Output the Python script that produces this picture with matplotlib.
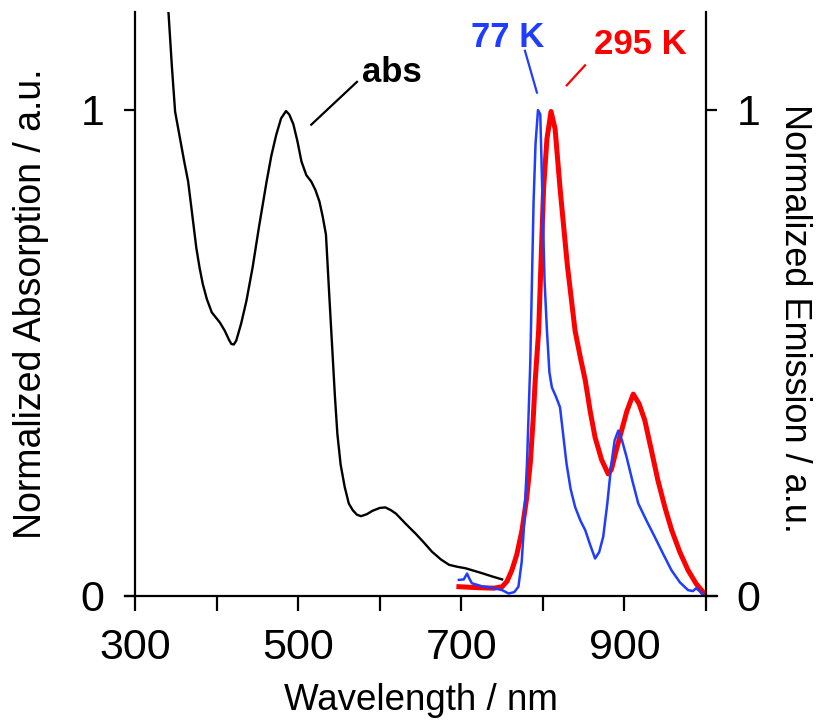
import matplotlib
matplotlib.use("Agg")
import matplotlib.pyplot as plt

plt.rcParams['font.family'] = ['Liberation Sans', 'DejaVu Sans']

# absorption spectrum (black)
abs_x = [335, 341, 345, 349, 355, 360, 365, 369, 375, 379, 383, 388, 394, 404,
         410, 415, 418, 421, 424, 430, 436.5, 444, 452, 461, 467, 473, 479, 485,
         489, 494, 499, 504, 510, 516, 521, 526, 530, 534, 538, 542, 545, 548,
         552, 557, 562, 567, 572, 577, 584, 591, 600, 607, 614, 620, 632, 644,
         654, 664, 675, 685, 695, 705, 715, 725, 738, 750]
abs_y = [1.32, 1.197, 1.09, 0.996, 0.941, 0.895, 0.852, 0.798, 0.716, 0.675,
         0.641, 0.61, 0.583, 0.562, 0.545, 0.527, 0.518, 0.517, 0.525, 0.56,
         0.607, 0.675, 0.76, 0.85, 0.905, 0.948, 0.982, 0.997, 0.99, 0.97,
         0.935, 0.893, 0.865, 0.852, 0.835, 0.811, 0.78, 0.743, 0.62, 0.50,
         0.41, 0.333, 0.27, 0.224, 0.19, 0.176, 0.167, 0.164, 0.168, 0.175,
         0.181, 0.182, 0.176, 0.169, 0.148, 0.128, 0.11, 0.091, 0.075, 0.064,
         0.060, 0.057, 0.052, 0.047, 0.040, 0.034]

# emission at 77 K (blue)
em77_x = [697, 703, 707, 710, 713, 725, 740, 750, 758, 765, 770, 774, 776.5,
          780.5, 784.5, 788.6, 791, 794, 796.8, 799, 802, 805, 808, 811, 816,
          821, 825, 829, 834, 839.5, 846, 852, 858, 864, 869, 874, 879, 884,
          888, 892.5, 897, 902.6, 910, 917, 927, 937, 947, 957.6, 968, 978,
          984, 988, 992, 996, 1000]
em77_y = [0.033, 0.034, 0.046, 0.035, 0.026, 0.02, 0.016, 0.012, 0.005, 0.008,
          0.019, 0.07, 0.135, 0.272, 0.477, 0.811, 0.93, 0.999, 0.99, 0.85,
          0.65, 0.545, 0.46, 0.429, 0.41, 0.388, 0.33, 0.272, 0.22, 0.183,
          0.155, 0.135, 0.105, 0.077, 0.09, 0.122, 0.19, 0.272, 0.32, 0.340,
          0.32, 0.286, 0.235, 0.19, 0.155, 0.122, 0.088, 0.053, 0.028, 0.012,
          0.010, 0.016, 0.01, 0.002, 0.0]

# emission at 295 K (red)
em295_x = [697, 720, 740, 750, 756, 762, 768, 774.4, 780, 784.5, 788, 790.6,
           794.8, 798, 800.9, 805, 810, 815, 821, 830, 839.5, 846, 852, 858,
           864, 872, 880, 884, 890, 896.5, 903, 910.8, 918, 925, 933, 941, 950,
           958, 968, 978, 988, 996, 1000]
em295_y = [0.019, 0.017, 0.016, 0.019, 0.03, 0.053, 0.085, 0.135, 0.20, 0.272,
           0.36, 0.443, 0.545, 0.70, 0.839, 0.94, 0.996, 0.96, 0.839, 0.68,
           0.545, 0.49, 0.443, 0.38, 0.326, 0.28, 0.251, 0.26, 0.30, 0.340,
           0.38, 0.415, 0.395, 0.361, 0.30, 0.238, 0.18, 0.135, 0.09, 0.053,
           0.025, 0.009, 0.0]

blue = '#1f3dff'
red = '#ff0000'

fig = plt.figure(figsize=(8.19, 7.25), dpi=100)
ax = fig.add_axes([0.165, 0.178, 0.697, 0.805])

ax.plot(abs_x, abs_y, color='black', lw=1.7)
ax.plot(em295_x, em295_y, color=red, lw=3.6)
ax.plot(em77_x, em77_y, color=blue, lw=1.8)

ax.set_xlim(300, 1000)
ax.set_ylim(0, 1.2)

for s in ['left', 'right', 'bottom']:
    ax.spines[s].set_linewidth(1.6)
ax.spines['top'].set_visible(False)
ax.spines['bottom'].set_bounds(287, 1014)

ax.set_xticks([300, 500, 700, 900])
ax.set_xticks([400, 600, 800, 1000], minor=True)
ax.set_yticks([0, 1])
ax.set_yticklabels(['0', '1'])
ax.tick_params(axis='x', which='both', direction='out', length=11, width=1.6,
               labelsize=31, pad=12)
ax.tick_params(axis='y', direction='out', length=8, width=1.6, labelsize=31,
               pad=14, left=True, right=True, labelleft=True, labelright=True)

ax.set_xlabel('Wavelength / nm', fontsize=26.5, va='top')
ax.xaxis.set_label_coords(0.5, -0.15)

# y axis titles as plain rotated text
ax.text(-0.183, 0.5, 'Normalized Absorption / a.u.', transform=ax.transAxes,
        fontsize=27, rotation=90, ha='center', va='center')
ax.text(1.155, 0.475, 'Normalized Emission / a.u.', transform=ax.transAxes,
        fontsize=26, rotation=270, ha='center', va='center')

# labels with leader lines
ax.plot([516, 572], [0.969, 1.057], color='black', lw=1.6)
ax.text(615, 1.076, 'abs', fontsize=25, fontweight='bold', ha='center',
        va='center')
ax.plot([778, 792.7], [1.121, 1.035], color=blue, lw=1.6)
ax.text(757, 1.148, '77 K', fontsize=25, fontweight='bold', color=blue,
        ha='center', va='center')
ax.plot([829.3, 851.7], [1.050, 1.091], color=red, lw=1.6)
ax.text(919, 1.133, '295 K', fontsize=25, fontweight='bold', color=red,
        ha='center', va='center')

fig.savefig('out.png', dpi=100)
